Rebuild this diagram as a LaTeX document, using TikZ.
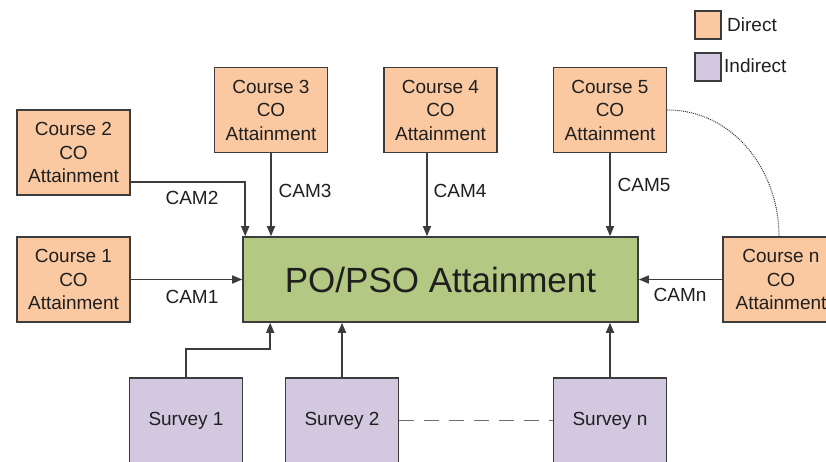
\documentclass[tikz,border=0pt]{standalone}
\usepackage{fontspec}
\setmainfont{Liberation Sans}
\usetikzlibrary{arrows.meta,calc}
\definecolor{dirc}{RGB}{250,201,162}
\definecolor{indc}{RGB}{210,201,224}
\definecolor{poc}{RGB}{179,201,131}
\definecolor{edgec}{RGB}{60,60,60}
\begin{document}
\begin{tikzpicture}[x=1bp,y=-1bp,
  txt/.style={font=\fontsize{19bp}{23.5bp}\selectfont, text=black!88, align=center, inner sep=0pt},
  box/.style={txt, draw=edgec, line width=1.6bp, minimum width=113bp, minimum height=85bp},
  dirbox/.style={box, fill=dirc},
  indbox/.style={box, fill=indc},
  arr/.style={draw=edgec, line width=1.5bp, -{Triangle[length=10bp,width=8bp]}},
  lab/.style={txt},
  legbox/.style={draw=edgec, line width=1.6bp, minimum width=26bp, minimum height=28bp, inner sep=0pt}
]
\useasboundingbox (0,0) rectangle (826,462);
\clip (0,0) rectangle (826,462);
\fill[white] (0,0) rectangle (826,462);

% legend
\node[legbox, fill=dirc] (ld) at (708,25) {};
\node[txt, anchor=west] (ldt) at (727,25) {Direct};
\node[legbox, fill=indc] (li) at (708,67) {};
\node[txt, anchor=west] (lit) at (724,66) {Indirect};

% main
\node[box, fill=poc, minimum width=395bp, font=\fontsize{35bp}{40bp}\selectfont] (po) at (440.5,279.5) {PO/PSO Attainment};

% courses
\node[dirbox] (c2) at (73.5,152.5) {Course 2\\CO\\Attainment};
\node[dirbox] (c1) at (73.5,279.5) {Course 1\\CO\\Attainment};
\node[dirbox] (c3) at (271,110) {Course 3\\CO\\Attainment};
\node[dirbox] (c4) at (440.5,110) {Course 4\\CO\\Attainment};
\node[dirbox] (c5) at (610,110) {Course 5\\CO\\Attainment};
\node[dirbox, minimum width=116bp] (cn) at (781,279.5) {Course n\\CO\\Attainment};

% surveys
\node[indbox] (s1) at (186,420.5) {Survey 1};
\node[indbox] (s2) at (342,420.5) {Survey 2};
\node[indbox] (sn) at (610,420.5) {Survey n};

% connectors
\draw[arr] ([yshift=-29.5bp]c2.east) -| ([xshift=3bp]po.north west);
\draw[arr] (c3.south) -- (c3.south |- po.north);
\draw[arr] ([xshift=-13.5bp]c4.south) -- ([xshift=-13.5bp]c4.south |- po.north);
\draw[arr] (c5.south) -- (c5.south |- po.north);
\draw[arr] (c1.east) -- (c1.east -| po.west);
\draw[arr] (cn.west) -- (cn.west -| po.east);

\coordinate (s1bend) at ([yshift=28bp]s1.north);
\coordinate (s1end) at ([xshift=28bp]po.south west);
\draw[arr] (s1.north) -- (s1bend) -| (s1end);
\draw[arr] (s2.north) -- (s2.north |- po.south);
\draw[arr] (sn.north) -- (sn.north |- po.south);

\draw[draw=edgec!75, line width=1.6bp, dash pattern=on 15bp off 10bp] (s2.east) -- (sn.west);
\draw[draw=edgec, line width=1bp, densely dotted] (c5.east) to[out=0,in=90] ([xshift=-2bp]cn.north);

% labels
\node[lab] (l2) at (192,198) {CAM2};
\node[lab] (l1) at (192,297) {CAM1};
\node[lab] (l3) at (305,191) {CAM3};
\node[lab] (l4) at (460,191) {CAM4};
\node[lab] (l5) at (644,185) {CAM5};
\node[lab] (ln) at (680,295) {CAMn};
\end{tikzpicture}
\end{document}
